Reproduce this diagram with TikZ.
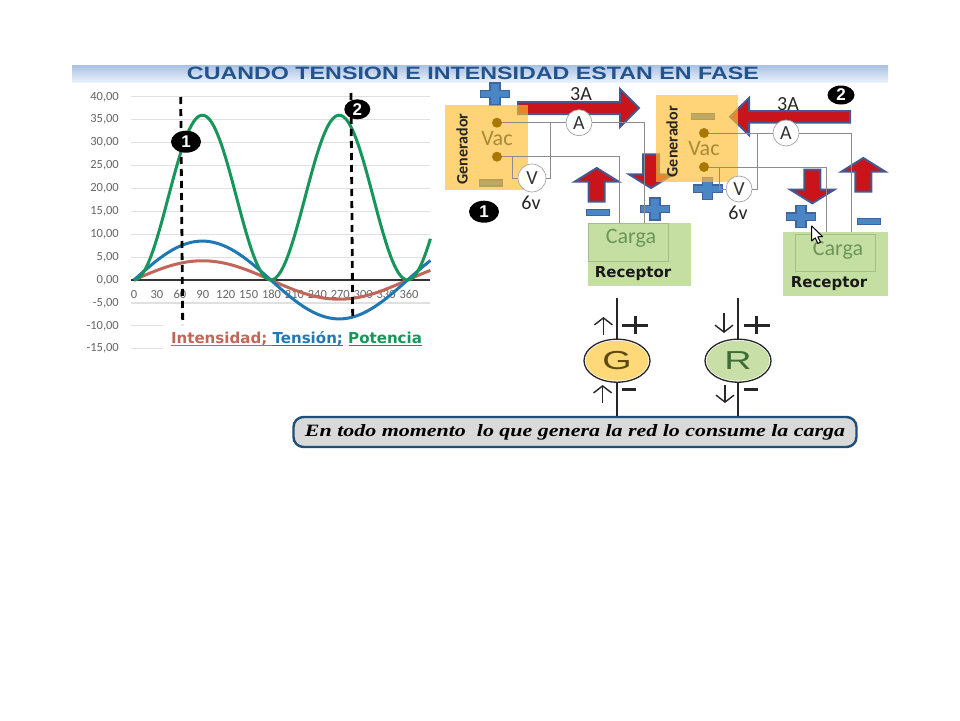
\documentclass[tikz,border=0pt]{standalone}
\usepackage{graphicx}
\usepackage{fontspec}
\usetikzlibrary{shapes.geometric,arrows.meta}
\setmainfont{Liberation Sans}
\newfontfamily\califont{Carlito}
\newfontfamily\serifbi{Liberation Serif}
\newfontfamily\djfont{DejaVu Sans}
\definecolor{gencol}{HTML}{FFBE30}
\definecolor{cargacol}{HTML}{C5DFA3}
\definecolor{cargaline}{HTML}{A3BF8A}
\definecolor{cargatxt}{HTML}{6B9655}
\definecolor{vactxt}{HTML}{A88A35}
\definecolor{dotcol}{HTML}{A87800}
\definecolor{wirecol}{HTML}{8C8C8C}
\definecolor{redcol}{HTML}{C8141A}
\definecolor{arrline}{HTML}{44598F}
\definecolor{bluefill}{HTML}{4A86C4}
\definecolor{blueline}{HTML}{3F659F}
\definecolor{gridcol}{HTML}{E0E0E0}
\definecolor{ticktxt}{HTML}{666666}
\definecolor{pcol}{HTML}{18955A}
\definecolor{vcol}{HTML}{1F78B4}
\definecolor{icol}{HTML}{C2665A}
\definecolor{titlecol}{HTML}{23538C}
\definecolor{boxline}{HTML}{1F4E79}
\definecolor{bandtop}{HTML}{A8C0E2}
\definecolor{bandbot}{HTML}{EAF1FA}
\definecolor{gball}{HTML}{FFD878}
\definecolor{rball}{HTML}{C9DFA8}
\definecolor{gtxt}{HTML}{5A4A10}
\definecolor{rtxt}{HTML}{3F6B35}
\definecolor{msgfill}{HTML}{D9D9D9}
\tikzset{
  gridline/.style={draw=gridcol,line width=1.2pt},
  ticklabel/.style={text=ticktxt,font=\califont\fontsize{12.5}{13}\selectfont,inner sep=0pt},
  curve/.style={line width=3pt,line join=round},
  cutline/.style={draw=black,line width=2.8pt,dash pattern=on 7pt off 5pt},
  badge/.style={ellipse,fill=black,text=white,font=\bfseries\fontsize{17}{17}\selectfont,inner sep=0pt},
  genbox/.style={fill=gencol,fill opacity=.65,draw=none,rectangle,inner sep=0pt},
  wire/.style={draw=wirecol,line width=.9pt},
  meter/.style={circle,draw=wirecol!80,fill=white,line width=.7pt,inner sep=0pt,font=\califont\fontsize{20}{20}\selectfont,text=black!80},
  gendot/.style={circle,fill=dotcol,inner sep=0pt,minimum size=10pt},
  gentext/.style={rotate=90,font=\califont\bfseries\fontsize{16}{16}\selectfont,text=black!85,inner sep=0pt},
  vactext/.style={font=\califont\fontsize{22}{22}\selectfont,text=vactxt,inner sep=0pt},
  amptext/.style={font=\califont\fontsize{20}{20}\selectfont,text=black!85,inner sep=0pt},
  cargaouter/.style={rectangle,fill=cargacol,draw=none,inner sep=0pt},
  cargainner/.style={rectangle,draw=cargaline,line width=.8pt,inner sep=0pt},
  cargatext/.style={font=\califont\fontsize{22}{22}\selectfont,text=cargatxt,inner sep=0pt},
  receptortext/.style={font=\djfont\bfseries\fontsize{15}{15}\selectfont,text=black!90,inner sep=0pt},
  bigarr/.style={fill=redcol,draw=arrline,line width=2pt,line join=miter},
  bluemark/.style={fill=bluefill,draw=blueline,line width=1.3pt},
  thinarr/.style={draw=black!85,line width=1.4pt,-{Straight Barb[length=7pt,width=18pt]}},
  stem/.style={draw=black!85,line width=1.8pt},
  signmark/.style={draw=black!85,line width=3pt},
  upred/.pic={\path[bigarr] (0,0) -- (22,13.7) -- (8,13.7) -- (8,33.7) -- (-8,33.7) -- (-8,13.7) -- (-22,13.7) -- cycle;},
  bluecross/.pic={\path[bluemark] (-5,-11) -- (5,-11) -- (5,-3.8) -- (14.5,-3.8) -- (14.5,3.8) -- (5,3.8) -- (5,11) -- (-5,11) -- (-5,3.8) -- (-14.5,3.8) -- (-14.5,-3.8) -- (-5,-3.8) -- cycle;},
  bluedash/.pic={\path[bluemark] (-11.5,-3) rectangle (11.5,3);},
  ballrim/.style={ellipse,draw=black!85,fill=white,line width=1.3pt,minimum width=66pt,minimum height=43pt,inner sep=0pt},
  genball/.style={ellipse,minimum width=63pt,minimum height=40pt,inner sep=0pt,font=\fontsize{26}{26}\selectfont},
}
\begin{document}
\begin{tikzpicture}[x=1pt,y=-1pt]
\useasboundingbox (0,0) rectangle (960,720);
\fill[white] (0,0) rectangle (960,720);
% title band
\shade[top color=bandtop,bottom color=bandbot] (72,65) rectangle (888,82);
\node[inner sep=0pt,text=titlecol] (title) at (473,73) {\resizebox{572pt}{12.5pt}{\bfseries CUANDO TENSION E INTENSIDAD ESTAN EN FASE}};
% grid
\foreach \val in {40,35,30,25,20,15,10,5,-5}{
  \draw[gridline] (131,{280-4.58*\val}) -- (430,{280-4.58*\val});
}
\foreach \val in {-10,-15}{\draw[gridline] (131,{280-4.58*\val}) -- (163,{280-4.58*\val});}
\foreach \val in {40,35,30,25,20,15,10,5,0,-5,-10,-15}{
  \node[ticklabel,anchor=east] at (119,{280-4.58*\val}) {\val,00};
}
\foreach \deg in {0,30,...,360}{\node[ticklabel] at ({134+0.764*\deg},294) {\deg};}
\draw[draw=black!80,line width=1.2pt] (131,280) -- (430,280);
% curves
\draw[curve,icol] plot[domain=0:390,samples=80,smooth] ({134+0.76*\x},{280-4.58*4.2*sin(\x)});
\draw[curve,vcol] plot[domain=0:390,samples=80,smooth] ({134+0.76*\x},{280-4.58*8.5*sin(\x)});
\draw[curve,pcol] plot[domain=0:390,samples=120,smooth] ({134+0.76*\x},{280-4.58*36*sin(\x)*sin(\x)});
% cut lines and badges
\coordinate (c1a) at (180.7,97); \coordinate (c1b) at (182.7,325);
\coordinate (c2a) at (351,93); \coordinate (c2b) at (352.7,320);
\draw[cutline] (c1a) -- (c1b);
\draw[cutline] (c2a) -- (c2b);
\node[badge,minimum width=30pt,minimum height=22pt] (b1) at (186,141.7) {1};
\node[badge,minimum width=26pt,minimum height=20pt] (b2) at (357.3,109.3) {2};
% legend
\node[inner sep=0pt] (legend) at (296.5,339) {\resizebox{251pt}{!}{\djfont\bfseries\fontsize{14}{14}\selectfont\color{icol}Intensidad;\ \color{vcol}Tensión;\ \color{pcol}Potencia}};
\draw[icol,line width=1pt] (171,345.5) -- (272,345.5);
\draw[vcol,line width=1pt] (272,345.5) -- (343,345.5);
\draw[pcol,line width=1pt] (349,345.5) -- (422,345.5);
% arrows and signs under the generator boxes
\path[bigarr] (518,102) -- (620,102) -- (620,89) -- (639,108) -- (620,127) -- (620,114) -- (518,114) -- cycle;
\pic at (596.7,168) {upred};
\pic[yscale=-1] at (651,188) {upred};
\pic at (495,94) {bluecross};
\pic at (491,183) {bluedash};
\pic at (598,212.7) {bluedash};
\pic at (655,209) {bluecross};
\path[bigarr] (850,111) -- (749,111) -- (749,98) -- (730,116.7) -- (749,135) -- (749,122.7) -- (850,122.7) -- cycle;
\pic at (703,116.7) {bluedash};
\pic at (707.7,188.7) {bluecross};
\pic[yscale=-1] at (812.3,203.3) {upred};
\pic at (863.3,158) {upred};
\pic at (801,216.7) {bluecross};
\pic at (869,221.7) {bluedash};
% generator boxes
\node[genbox,minimum width=83pt,minimum height=85pt] (g1) at (486.5,147.5) {};
\node[genbox,minimum width=82.5pt,minimum height=87pt] (g2) at (697,138.5) {};
% carga boxes
\node[cargaouter,minimum width=103pt,minimum height=63pt] (co1) at (639.5,254.2) {};
\node[cargainner,minimum width=80pt,minimum height=38pt] (ci1) at (628,242) {};
\node[cargaouter,minimum width=104.7pt,minimum height=63.7pt] (co2) at (835.4,263.9) {};
\node[cargainner,minimum width=80pt,minimum height=37pt] (ci2) at (835,252.5) {};
\node[cargatext] (ct1) at (631,238) {Carga};
\node[cargatext] (ct2) at (838,250) {Carga};
\node[receptortext] (r1) at (633,274) {Receptor};
\node[receptortext] (r2) at (829,284) {Receptor};
% circuit 1
\node[gendot] (d11) at (497,122.7) {};
\node[gendot] (d12) at (497,156.7) {};
\node[meter,minimum size=26pt] (a1) at (579,122.7) {A};
\node[meter,minimum size=28pt] (v1) at (532,178) {V};
\coordinate (t11) at (644,222.7);
\coordinate (t12) at (619,222.7);
\coordinate (j11) at (550,122.7);
\coordinate (j12) at (512.7,156.7);
\draw[wire] (d11) -- (a1);
\draw[wire] (a1) -- (a1 -| t11) -- (t11);
\draw[wire] (d12) -- (d12 -| t12) -- (t12);
\draw[wire] (j11) -- (j11 |- v1) -- (v1);
\draw[wire] (j12) -- (j12 |- v1) -- (v1);
\node[vactext] (vt1) at (497,138.5) {Vac};
\node[gentext] (gt1) at (462,149) {Generador};
\node[amptext] (l6v1) at (531,202.7) {6v};
\node[amptext] (l3a1) at (581,94.5) {3A};
\node[badge,minimum width=30pt,minimum height=22pt] (b1c) at (484,211.7) {1};
% circuit 2
\node[gendot] (d21) at (704,133) {};
\node[gendot] (d22) at (704,167) {};
\coordinate (t21) at (851,232);
\coordinate (t22) at (826,232);
\coordinate (j21) at (757.7,133);
\coordinate (j22) at (719,167);
\node[meter,minimum size=26pt] (a2) at (786,133) {A};
\node[meter,minimum size=26pt] (v2) at (739,189) {V};
\draw[wire] (d21) -- (a2);
\draw[wire] (a2) -- (a2 -| t21) -- (t21);
\draw[wire] (d22) -- (d22 -| t22) -- (t22);
\draw[wire] (j21) -- (j21 |- v2) -- (v2);
\draw[wire] (j22) -- (j22 |- v2) -- (v2);
\node[vactext] (vt2) at (704,148.5) {Vac};
\node[gentext] (gt2) at (672,141.7) {Generador};
\node[amptext] (l6v2) at (738,213) {6v};
\node[amptext] (l3a2) at (788,104) {3A};
\node[badge,minimum width=27pt,minimum height=19pt] (b2c) at (841,95) {2};
% cursor
\path[fill=white,draw=black,line width=1pt,line join=round] (811.7,226) -- (811.7,241) -- (815.2,237.8) -- (818,243.5) -- (820.5,242.3) -- (817.8,236.8) -- (822.5,236.5) -- cycle;
% G and R
\node[ballrim] (Gr) at (617,360.7) {};
\node[ballrim] (Rr) at (738,360.7) {};
\node[genball,fill=gball,text=gtxt] (G) at (617,360.7) {\scalebox{1.45}[1]{G}};
\node[genball,fill=rball,text=rtxt] (R) at (738,360.7) {\scalebox{1.45}[1]{R}};
\node[rectangle,rounded corners=10pt,draw=boxline,line width=2.4pt,fill=msgfill,minimum width=563pt,minimum height=30pt,inner sep=0pt] (msg) at (575,432) {\resizebox{540pt}{12pt}{\serifbi\bfseries\itshape\fontsize{17}{17}\selectfont En todo momento\ \ lo que genera la red lo consume la carga}};
\coordinate (gtop) at (617,298); \coordinate (rtop) at (738,298);
\draw[stem] (gtop) -- (Gr);
\draw[stem] (Gr) -- (Gr |- msg.north);
\draw[stem] (rtop) -- (Rr);
\draw[stem] (Rr) -- (Rr |- msg.north);
\coordinate (ga1) at (603.4,335); \coordinate (ga2) at (603.4,317);
\coordinate (gb1) at (602.6,403); \coordinate (gb2) at (602.6,385);
\coordinate (ra1) at (724,313); \coordinate (ra2) at (724,333);
\coordinate (rb1) at (725,385); \coordinate (rb2) at (725,403);
\draw[thinarr] (ga1) -- (ga2);
\draw[thinarr] (gb1) -- (gb2);
\draw[thinarr] (ra1) -- (ra2);
\draw[thinarr] (rb1) -- (rb2);
\coordinate (gp) at (635,325); \coordinate (rp) at (756.5,325);
\draw[signmark] ([xshift=-13pt]gp) -- ([xshift=13pt]gp);
\draw[signmark] ([yshift=-9pt]gp) -- ([yshift=9pt]gp);
\draw[signmark] ([xshift=-13pt]rp) -- ([xshift=13pt]rp);
\draw[signmark] ([yshift=-9pt]rp) -- ([yshift=9pt]rp);
\coordinate (gm) at (629,389); \coordinate (rm) at (750.7,389);
\draw[signmark] ([xshift=-7pt]gm) -- ([xshift=7pt]gm);
\draw[signmark] ([xshift=-7pt]rm) -- ([xshift=7pt]rm);
\end{tikzpicture}
\end{document}
